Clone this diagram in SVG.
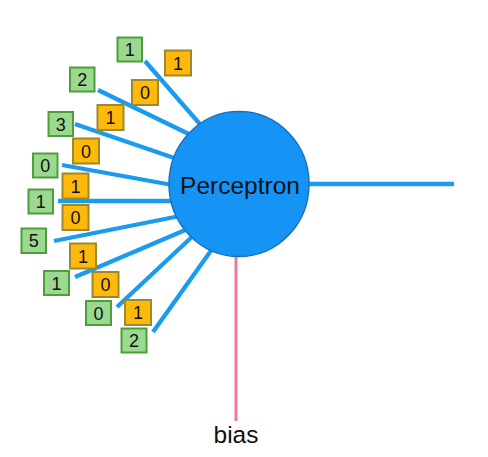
<svg xmlns="http://www.w3.org/2000/svg" width="488" height="457" viewBox="0 0 488 457">
<style>
.ln{stroke:#1a9bf0;stroke-width:4.3;stroke-linecap:butt;fill:none}
.g rect{fill:#9ad98f;stroke:#4f9e3c;stroke-width:2}
.o rect{fill:#ffb90a;stroke:#9b8a2c;stroke-width:2}
.t{font-family:"Liberation Sans",Arial,sans-serif;font-size:18px;fill:#111;text-anchor:middle}
.lbl{font-family:"Liberation Sans",Arial,sans-serif;font-size:24.5px;fill:#111;text-anchor:middle}
</style>
<rect width="488" height="457" fill="#fff"/>
<g id="connectors">
<line class="ln" x1="145" y1="61" x2="205" y2="130"/>
<line class="ln" x1="98" y1="90" x2="195" y2="137"/>
<line class="ln" x1="75" y1="124" x2="180" y2="160"/>
<line class="ln" x1="62" y1="165" x2="178" y2="186"/>
<line class="ln" x1="58" y1="201" x2="178" y2="201"/>
<line class="ln" x1="54" y1="241" x2="180" y2="216"/>
<line class="ln" x1="75" y1="277" x2="190" y2="228"/>
<line class="ln" x1="117" y1="307" x2="195" y2="234"/>
<line class="ln" x1="153" y1="332" x2="215" y2="245"/>
<line class="ln" x1="300" y1="184" x2="454" y2="184"/>
<line x1="236" y1="250" x2="236" y2="421" stroke="#ea7aa3" stroke-width="3"/>
</g>
<g id="perceptron">
<ellipse cx="239" cy="184" rx="70" ry="72.5" fill="#1594f5" stroke="#1a72bd" stroke-width="1.5"/>
<text class="lbl" x="240" y="194">Perceptron</text>
</g>
<g id="bias"><text class="lbl" x="236" y="443">bias</text></g>
<g id="x1" class="g"><rect x="117.5" y="37.5" width="24.5" height="24"/><text class="t" x="129.7" y="56">1</text></g>
<g id="w1" class="o"><rect x="165" y="50.5" width="26" height="25"/><text class="t" x="178" y="69.5">1</text></g>
<g id="x2" class="g"><rect x="70" y="67.5" width="24.5" height="24"/><text class="t" x="82.2" y="86">2</text></g>
<g id="w2" class="o"><rect x="132" y="80" width="26" height="25"/><text class="t" x="145" y="99">0</text></g>
<g id="x3" class="g"><rect x="48.5" y="112" width="24.5" height="24"/><text class="t" x="60.7" y="130.5">3</text></g>
<g id="w3" class="o"><rect x="97.5" y="105" width="26" height="25"/><text class="t" x="110.5" y="124">1</text></g>
<g id="w4" class="o"><rect x="73" y="138.5" width="26" height="25"/><text class="t" x="86" y="157.5">0</text></g>
<g id="x4" class="g"><rect x="33" y="153.5" width="24.5" height="24"/><text class="t" x="45.2" y="172">0</text></g>
<g id="w5" class="o"><rect x="62.5" y="173.5" width="26" height="25"/><text class="t" x="75.5" y="192.5">1</text></g>
<g id="x5" class="g"><rect x="28.5" y="189.5" width="24.5" height="24"/><text class="t" x="40.7" y="208">1</text></g>
<g id="w6" class="o"><rect x="62.5" y="205" width="26" height="25"/><text class="t" x="75.5" y="224">0</text></g>
<g id="x6" class="g"><rect x="21.5" y="228.5" width="24.5" height="24.5"/><text class="t" x="33.7" y="247.3">5</text></g>
<g id="w7" class="o"><rect x="70" y="243.5" width="26" height="25"/><text class="t" x="83" y="262.5">1</text></g>
<g id="x7" class="g"><rect x="44" y="271" width="25" height="24"/><text class="t" x="56.5" y="289.5">1</text></g>
<g id="w8" class="o"><rect x="92.5" y="272" width="26" height="25"/><text class="t" x="105.5" y="291">0</text></g>
<g id="x8" class="g"><rect x="86" y="301" width="25" height="24"/><text class="t" x="98.5" y="319.5">0</text></g>
<g id="w9" class="o"><rect x="125" y="300" width="26" height="25"/><text class="t" x="138" y="319">1</text></g>
<g id="x9" class="g"><rect x="121.5" y="328.5" width="25" height="24"/><text class="t" x="134" y="347">2</text></g>
</svg>
